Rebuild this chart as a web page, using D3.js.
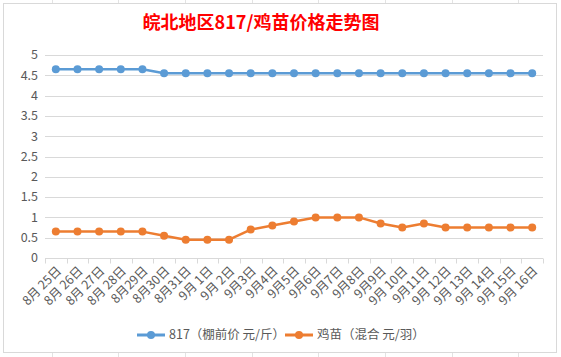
<!DOCTYPE html>
<html><head><meta charset="utf-8">
<script src="https://cdn.jsdelivr.net/npm/d3@7"></script>
<style>body{margin:0;background:#fff}svg{display:block}</style>
</head><body>
<svg id="c" width="561" height="357"></svg>
<script>
const categories = ["8月 25日","8月 26日","8月 27日","8月 28日","8月29日","8月30日","8月31日","9月 1日","9月 2日","9月3日","9月4日","9月5日","9月6日","9月7日","9月8日","9月9日","9月 10日","9月11日","9月 12日","9月 13日","9月 14日","9月 15日","9月 16日"];
const price817 = [4.65,4.65,4.65,4.65,4.65,4.55,4.55,4.55,4.55,4.55,4.55,4.55,4.55,4.55,4.55,4.55,4.55,4.55,4.55,4.55,4.55,4.55,4.55];
const chick = [0.65,0.65,0.65,0.65,0.65,0.55,0.45,0.45,0.45,0.7,0.8,0.9,1.0,1.0,1.0,0.85,0.75,0.85,0.75,0.75,0.75,0.75,0.75];
const yTicks = [0,0.5,1,1.5,2,2.5,3,3.5,4,4.5,5];
const seriesNames = ["817（棚前价 元/斤）","鸡苗（混合 元/羽）"];
const colors = ["#5B9BD5","#ED7D31"];
const title = "皖北地区817/鸡苗价格走势图";

const svg = d3.select("#c");
const font = "'Noto Sans CJK SC','Noto Sans',sans-serif";
const sheet = svg.append("g").attr("stroke","#e3e3e3").attr("stroke-width",1);
[52,118,185,252,318,385,452,518].forEach(x=>sheet.append("line").attr("x1",x+0.5).attr("x2",x+0.5).attr("y1",0).attr("y2",357));
svg.append("rect").attr("x",3.5).attr("y",3.5).attr("width",553).attr("height",349).attr("fill","#fff").attr("stroke","#d9d9d9");

const x = d3.scaleBand().domain(categories).range([45,543]);
const y = d3.scaleLinear().domain([0,5]).range([258,55]);

svg.append("g").selectAll("line").data(yTicks.slice(1)).join("line")
  .attr("x1",45).attr("x2",543).attr("y1",d=>Math.round(y(d))+0.5).attr("y2",d=>Math.round(y(d))+0.5)
  .attr("stroke","#d9d9d9");

svg.append("g").selectAll("text").data(yTicks).join("text")
  .attr("x",38).attr("y",d=>y(d)).attr("dy","0.35em").attr("text-anchor","end")
  .attr("font-family",font).attr("font-size",12.5).attr("fill","#595959").text(d=>d);

const xa = svg.append("g").attr("transform",`translate(0,${Math.round(y(0))+0.5})`);
xa.append("line").attr("x1",45).attr("x2",543).attr("stroke","#d9d9d9");
const bounds = categories.map(c=>x(c)).concat([543]);
xa.selectAll("line.t").data(bounds).join("line").attr("class","t")
  .attr("x1",d=>Math.round(d)+0.5).attr("x2",d=>Math.round(d)+0.5).attr("y1",0).attr("y2",5).attr("stroke","#d9d9d9");
xa.selectAll("text").data(categories).join("text")
  .attr("transform",d=>`translate(${x(d)+x.bandwidth()/2},${7}) rotate(-45)`)
  .attr("text-anchor","end").attr("dy","0.7em")
  .attr("font-family",font).attr("font-size",12.5).attr("fill","#595959").text(d=>d);

const line = d3.line().x((d,i)=>x(categories[i])+x.bandwidth()/2).y(d=>y(d));
[price817,chick].forEach((s,k)=>{
  svg.append("path").datum(s).attr("d",line).attr("fill","none").attr("stroke",colors[k]).attr("stroke-width",2.5).attr("stroke-linejoin","round");
  svg.append("g").selectAll("circle").data(s).join("circle")
    .attr("cx",(d,i)=>x(categories[i])+x.bandwidth()/2).attr("cy",d=>y(d)).attr("r",4).attr("fill",colors[k]);
});

svg.append("text").attr("x",261).attr("y",29).attr("text-anchor","middle")
  .attr("font-family",font).attr("font-size",18).attr("font-weight","bold").attr("fill","#FF0000").text(title);

const legX = [137,285];
seriesNames.forEach((n,k)=>{
  const g = svg.append("g").attr("transform",`translate(${legX[k]},335)`);
  g.append("line").attr("x1",0).attr("x2",28).attr("stroke",colors[k]).attr("stroke-width",3);
  g.append("circle").attr("cx",14).attr("r",4).attr("fill",colors[k]);
  g.append("text").attr("x",32).attr("dy","0.35em").attr("font-family",font).attr("font-size",12.5).attr("fill","#595959").text(n);
});
</script>
</body></html>
